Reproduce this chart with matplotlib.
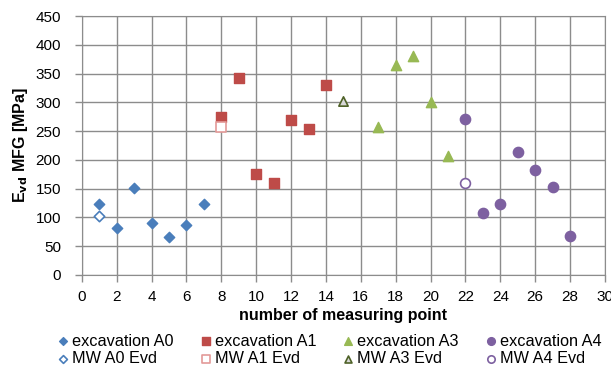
import numpy as np
import matplotlib.pyplot as plt

plt.rcParams['font.family'] = ['Liberation Sans', 'DejaVu Sans']

# measured values
x_a0 = [1, 2, 3, 4, 5, 6, 7]
y_a0 = [123, 81, 151, 90, 66, 87, 123]
x_mw0 = [1]
y_mw0 = [103]
x_a1 = [8, 9, 10, 11, 12, 13, 14]
y_a1 = [274, 343, 175, 159, 269, 253, 330]
x_mw1 = [8]
y_mw1 = [258]
x_a3 = [17, 18, 19, 20, 21]
y_a3 = [258, 365, 380, 300, 207]
x_mw3 = [15]
y_mw3 = [302]
x_a4 = [22, 23, 24, 25, 26, 27, 28]
y_a4 = [271, 107, 124, 214, 183, 153, 67]
x_mw4 = [22]
y_mw4 = [160]

blue = '#4A7EBB'
red = '#BE4B48'
green = '#98B954'
purple = '#7D60A0'

fig = plt.figure(figsize=(6.11, 3.66), dpi=100)
ax = fig.add_axes([0.134, 0.249, 0.856, 0.707])

h = []
h.append(ax.scatter(x_a0, y_a0, marker='D', s=28, color=blue, label='excavation A0', zorder=3))
h.append(ax.scatter(x_mw0, y_mw0, marker='D', s=28, facecolor='white', edgecolor=blue, linewidth=1.2, label='MW A0 Evd', zorder=3))
h.append(ax.scatter(x_a1, y_a1, marker='s', s=55, color=red, label='excavation A1', zorder=3))
h.append(ax.scatter(x_mw1, y_mw1, marker='s', s=55, facecolor='white', edgecolor='#E39A98', linewidth=1.2, label='MW A1 Evd', zorder=3))
h.append(ax.scatter(x_a3, y_a3, marker='^', s=55, color=green, label='excavation A3', zorder=3))
h.append(ax.scatter(x_mw3, y_mw3, marker='^', s=45, facecolor='#D8D8D8', edgecolor='#4F6228', linewidth=1.2, label='MW A3 Evd', zorder=3))
h.append(ax.scatter(x_a4, y_a4, marker='o', s=55, color=purple, label='excavation A4', zorder=3))
h.append(ax.scatter(x_mw4, y_mw4, marker='o', s=50, facecolor='white', edgecolor=purple, linewidth=1.2, label='MW A4 Evd', zorder=3))

ax.set_xlim(0, 30)
ax.set_ylim(0, 450)
ax.set_xticks(np.arange(0, 31, 2))
ax.set_yticks(np.arange(0, 451, 50))
ax.grid(True, color='#8C8C8C', linewidth=1)
ax.set_axisbelow(True)
for s in ax.spines.values():
    s.set_color('#8C8C8C')
ax.tick_params(labelsize=11, length=5, width=1, color='#8C8C8C', direction='out')
ax.tick_params(axis='x', pad=6)
ax.tick_params(axis='y', pad=10)

ax.set_xlabel('number of measuring point', fontsize=11.5, fontweight='bold', labelpad=3)
ax.set_ylabel(r'E$_\mathbf{vd}$ MFG [MPa]', fontsize=11.5, fontweight='bold', labelpad=4)

fig.legend(handles=h, ncol=4, loc='lower center', bbox_to_anchor=(0.538, -0.04),
           frameon=False, fontsize=11.7, handletextpad=0.1, handlelength=0.9,
           columnspacing=1.53, labelspacing=0.15, markerscale=0.75)

fig.savefig('out.png', dpi=100)
